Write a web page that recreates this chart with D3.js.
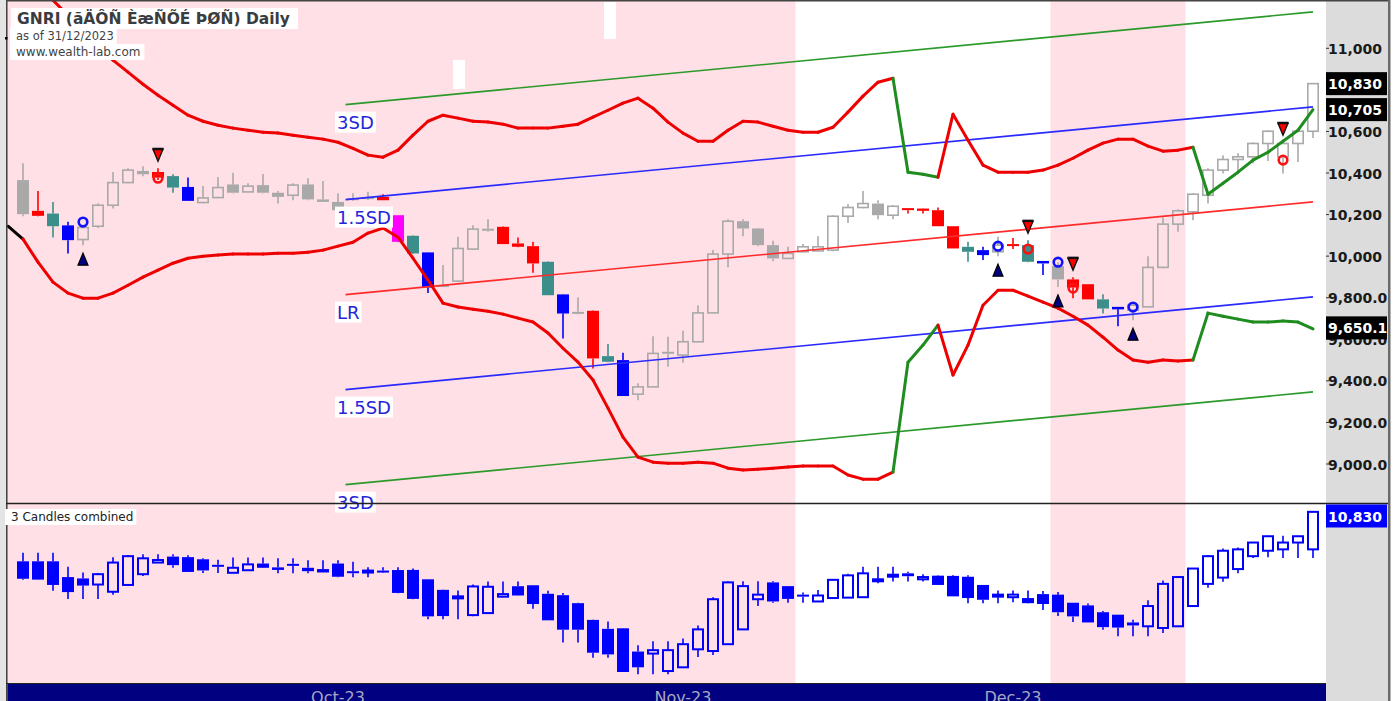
<!DOCTYPE html>
<html><head><meta charset="utf-8">
<script src="https://cdn.jsdelivr.net/npm/d3@7"></script>
<style>html,body{margin:0;padding:0;background:#fff;overflow:hidden}</style>
</head><body>
<svg id="c" width="1394" height="701"></svg>
<script>
// ---------------- DATA ----------------
const titleText = "GNRI (ãÄÔÑ ÈæÑÕÉ ÞØÑ) Daily";
const asOfText = "as of 31/12/2023";
const siteText = "www.wealth-lab.com";
const subPanelTitle = "3 Candles combined";

const open = [10366,10218,10205,10148,10080,10144,10245,10354,10410,10405, 10385,10333,10258,10282,10345,10309,10342,10305,10293,10345, 10273,10261,10279,10284,10285,10197,10098,10018,9861,9880, 10034,10132,10141,10061,10048,9973,9816,9732,9737,9519, 9500,9336,9371,9540,9524,9588,9727,10010,10168,10133, 10053,9989,10021,10025,10029,10192,10234,10253,10197,10231, 10229,10221,10144,10045,10029,10021,10058,10053,9977,9952, 9888,9865,9792,9756,9740,9756,9946,10154,10213,10293, 10414,10465,10478,10542,10478,10542,10601];
const high = [10447,10314,10261,10165,10149,10255,10405,10423,10433,10423, 10394,10378,10337,10381,10401,10351,10395,10313,10351,10375, 10362,10303,10303,10310,10298,10197,10101,10019,9957,10093, 10149,10177,10144,10090,10069,9976,9817,9801,9740,9577, 9535,9389,9615,9612,9641,9764,10029,10178,10178,10135, 10074,10045,10058,10096,10197,10250,10314,10269,10245,10231, 10231,10234,10144,10069,10045,10093,10087,10077,9977,9971, 9899,9865,9817,9756,9769,10000,10186,10226,10303,10423, 10486,10495,10548,10606,10548,10606,10833];
const low = [10192,10192,10090,10013,10053,10135,10229,10351,10385,10366, 10305,10265,10255,10279,10303,10308,10303,10253,10269,10269, 10260,10216,10265,10270,10269,10067,10010,9823,9851,9875, 10029,10117,10058,10043,9920,9812,9604,9721,9460,9490, 9327,9307,9370,9468,9487,9586,9726,9946,10096,10048, 9976,9986,10019,10024,10024,10160,10231,10177,10177,10205, 10205,10144,10037,9973,9981,10000,10034,9971,9909,9852, 9797,9792,9724,9663,9692,9755,9942,10117,10173,10253, 10398,10405,10446,10458,10398,10453,10568];
const close = [10202,10194,10144,10077,10138,10245,10354,10414,10394,10378, 10330,10266,10280,10330,10305,10337,10305,10285,10342,10273, 10261,10221,10272,10279,10269,10069,10013,9849,9852,10037, 10130,10127,10058,10045,9965,9812,9724,9724,9508,9492, 9327,9371,9532,9532,9588,9727,10010,10168,10133,10053, 9989,10013,10045,10045,10192,10234,10253,10197,10240,10226, 10218,10144,10037,10021,10005,10053,10053,9973,9965,9888, 9849,9792,9748,9744,9764,9946,10154,10218,10298,10414, 10465,10478,10542,10601,10542,10601,10830];
// candle highlight class per bar: g = plain, r/t/b/m = pattern colours
const candleClass = ("grtbgggggr"+"tbgggggggg"+"ggggrmtbgg"+"ggrrrtbgrt"+"bggggggggg"+
                     "gggggggggr"+"rrrtbgrtbg"+"rrtbgggggg"+"ggggggg").split("");

// thick envelope lines, first entry is bar -1
const upperBand = [null,11376,11304,11231,11159,11087,11015,10943,10885,10827, 10774,10726,10678,10649,10630,10616,10606,10596,10592,10582, 10572,10563,10548,10519,10486,10476,10510,10582,10649,10678, 10664,10649,10645,10635,10616,10616,10616,10625,10635,10669, 10702,10736,10760,10712,10645,10592,10553,10553,10606,10649, 10645,10625,10606,10596,10596,10620,10693,10770,10837,10856, 10404,10394,10380,10683,10558,10438,10404,10404,10404,10414, 10438,10471,10510,10544,10563,10563,10529,10505,10510,10524, 10298,10351,10404,10462,10500,10553,10606,10705];
const lowerBand = [10144,10082,9971,9875,9822,9798,9798,9822,9860,9899, 9933,9966,9990,10000,10005,10010,10010,10010,10014,10014, 10019,10029,10048,10067,10111,10135,10091,9990,9885,9774, 9755,9745,9735,9721,9702,9683,9630,9557,9490,9404, 9269,9129,9033,9009,9004,9004,9009,9004,8980,8971, 8975,8980,8985,8990,8990,8990,8947,8927,8927,8961, 9490,9572,9668,9428,9572,9764,9836,9836,9808,9779, 9750,9711,9668,9610,9548,9500,9490,9500,9495,9500, 9726,9711,9697,9683,9683,9688,9683,9650.1];
const greenSpans = [[59,61],[79,86]];
const blackBars = [0];

// linear regression channel
const regFromBar = 21.5, regToBar = 86;
const regFromValue = 9815, regToValue = 10261, regSigma = 304.7;
const regMultipliers = [3, 1.5, 0, -1.5, -3];
const regLabels = ["3SD","1.5SD","LR","1.5SD","3SD"];

// trade signals
const buyBars = [4,65,69,74], buyPrices = [10164,10048,9971,9755];
const sellBars = [9,67,70,84], sellPrices = [10375,10034,9846,10462];

// shaded periods (in bar units)
const pinkRanges = [[-1,51.5],[68.5,77.5]];

const priceTicks = [9000,9200,9400,9600,9800,10000,10200,10400,10600,11000];
const monthLabels = ["Oct-23","Nov-23","Dec-23"];
const monthBars = [21,44,66];

// ---------------- DRAW ----------------
const W=1394,H=701;
const L=7,R=1326,mainTop=1,mainBot=503,lowTop=504,lowBot=684;
const svg=d3.select('#c');
const x=d3.scaleLinear().domain([-1,86]).range([8,1313]);
const y=d3.scaleLinear().domain([9000,11000]).range([464,48.3]);
const y2=d3.scaleLinear().domain([9327,10838]).range([672,511]);
const PINK='#ffe0e6';

svg.append('rect').attr('width',W).attr('height',H).attr('fill','#fff');
svg.append('rect').attr('x',0).attr('y',0).attr('width',6).attr('height',H).attr('fill','#e4e4e4');
svg.append('rect').attr('x',R).attr('y',0).attr('width',1388-R).attr('height',H).attr('fill','#dcdcdc');
svg.append('rect').attr('x',1388).attr('y',0).attr('width',2.5).attr('height',H).attr('fill','#6a6a6a');

const defs=svg.append('defs');
defs.append('clipPath').attr('id','cm').append('rect').attr('x',L).attr('y',mainTop).attr('width',R-L).attr('height',mainBot-mainTop);
defs.append('clipPath').attr('id','cl').append('rect').attr('x',L).attr('y',lowTop).attr('width',R-L).attr('height',lowBot-lowTop);
defs.append('clipPath').attr('id','ca').append('rect').attr('x',R).attr('y',0).attr('width',1387-R).attr('height',H);

const gm=svg.append('g').attr('clip-path','url(#cm)');
const gl=svg.append('g').attr('clip-path','url(#cl)');

pinkRanges.forEach(([a,b])=>{
  gm.append('rect').attr('x',x(a)).attr('y',mainTop).attr('width',x(b)-x(a)).attr('height',mainBot-mainTop).attr('fill',PINK);
  gl.append('rect').attr('x',x(a)).attr('y',lowTop).attr('width',x(b)-x(a)).attr('height',lowBot-lowTop).attr('fill',PINK);
});
// small white artefacts in the price pane
gm.append('rect').attr('x',453).attr('y',60).attr('width',12).attr('height',29).attr('fill','#fff');
gm.append('rect').attr('x',604).attr('y',2).attr('width',12).attr('height',37).attr('fill','#fff');

const colMap={r:'#ff0000',t:'#3b8e8a',b:'#0000ff',m:'#ff00ff'};
const bars=d3.range(open.length);
const cw=12;
function drawCandle(g,ys,i,o,h,l,c,col,hollow,sw){
  const top=ys(Math.max(o,c)), bot=ys(Math.min(o,c));
  const hh=Math.max(bot-top,2);
  g.append('line').attr('x1',x(i)).attr('x2',x(i)).attr('y1',ys(h)).attr('y2',top).attr('stroke',col).attr('stroke-width',1.6);
  g.append('line').attr('x1',x(i)).attr('x2',x(i)).attr('y1',top+hh).attr('y2',ys(l)).attr('stroke',col).attr('stroke-width',1.6);
  if(hollow){
    g.append('rect').attr('x',x(i)-cw/2+sw/2).attr('y',top).attr('width',cw-sw).attr('height',hh).attr('fill','none').attr('stroke',col).attr('stroke-width',sw);
  } else {
    g.append('rect').attr('x',x(i)-cw/2).attr('y',top).attr('width',cw).attr('height',hh).attr('fill',col);
  }
}
bars.forEach(i=>{
  const k=candleClass[i], up=close[i]>open[i];
  if(k==='g') drawCandle(gm,y,i,open[i],high[i],low[i],close[i],'#a9a9a9',up,1.6);
  else drawCandle(gm,y,i,open[i],high[i],low[i],close[i],colMap[k],false,1.6);
});

// regression channel
regMultipliers.forEach((m,j)=>{
  const col=Math.abs(m)===3?'#2b9a2b':(m===0?'#ff2b2b':'#2a2aff');
  gm.append('line').attr('x1',x(regFromBar)).attr('x2',x(regToBar))
    .attr('y1',y(regFromValue+m*regSigma)).attr('y2',y(regToValue+m*regSigma))
    .attr('stroke',col).attr('stroke-width',1.6);
});

// envelope lines
function segColor(i){
  if(blackBars.includes(i)) return '#000';
  return greenSpans.some(([a,b])=>i>=a&&i<=b)?'#1e8c1e':'#ee0000';
}
[upperBand,lowerBand].forEach(arr=>{
  for(let p=1;p<arr.length;p++){
    const i=p-1;
    if(arr[p-1]==null) continue;
    gm.append('line').attr('x1',x(i-1)).attr('y1',y(arr[p-1])).attr('x2',x(i)).attr('y2',y(arr[p]))
      .attr('stroke',segColor(i)).attr('stroke-width',3).attr('stroke-linecap','round');
  }
});

// signals
buyBars.forEach((b,j)=>{
  const ty=y(low[b])+15;
  gm.append('path').attr('d',`M${x(b)},${ty-7}L${x(b)+5},${ty+5}L${x(b)-5},${ty+5}Z`).attr('fill','#000080').attr('stroke','#000').attr('stroke-width',1.2);
  gm.append('circle').attr('cx',x(b)).attr('cy',y(buyPrices[j])).attr('r',4.3).attr('fill','none').attr('stroke','#1010ff').attr('stroke-width',2.6);
});
sellBars.forEach((b,j)=>{
  const ty=y(high[b])-13;
  gm.append('path').attr('d',`M${x(b)-5},${ty-6}L${x(b)+5},${ty-6}L${x(b)},${ty+6}Z`).attr('fill','#ff0000').attr('stroke','#111').attr('stroke-width',1.4);
  gm.append('rect').attr('x',x(b)-5.5).attr('y',ty-7.5).attr('width',11).attr('height',2.5).attr('fill','#111');
  gm.append('circle').attr('cx',x(b)).attr('cy',y(sellPrices[j])).attr('r',4.3).attr('fill','none').attr('stroke','#ff1010').attr('stroke-width',2.6);
});

// SD labels
regMultipliers.forEach((m,j)=>{
  const t=svg.append('text').attr('x',337).attr('y',y(regFromValue+m*regSigma)+24)
    .attr('font-family','DejaVu Sans').attr('font-size',18).attr('fill','#2525d8').text(regLabels[j]);
  const bb=t.node().getBBox();
  svg.insert('rect','text:last-of-type').attr('x',bb.x-2).attr('y',bb.y).attr('width',bb.width+4).attr('height',bb.height).attr('fill','#fff');
  t.raise();
});

// lower pane: 3 candles combined
bars.forEach(i=>{
  const s=Math.max(0,i-2);
  const o=open[s], c=close[i];
  const h=d3.max(high.slice(s,i+1)), l=d3.min(low.slice(s,i+1));
  drawCandle(gl,y2,i,o,h,l,c,'#0000ff',c>o,2);
});

// borders
svg.append('line').attr('x1',6).attr('x2',1388).attr('y1',0.8).attr('y2',0.8).attr('stroke','#444').attr('stroke-width',1.6);
svg.append('line').attr('x1',6.8).attr('x2',6.8).attr('y1',0).attr('y2',H).attr('stroke','#444').attr('stroke-width',1.6);
svg.append('line').attr('x1',6).attr('x2',1388).attr('y1',503.5).attr('y2',503.5).attr('stroke','#222').attr('stroke-width',1.4);
svg.append('line').attr('x1',6).attr('x2',R).attr('y1',683.5).attr('y2',683.5).attr('stroke','#222').attr('stroke-width',1.2);
svg.append('rect').attr('x',7.5).attr('y',684).attr('width',R-7.5).attr('height',H-684).attr('fill','#000080');
svg.append('rect').attr('x',5).attr('y',37).attr('width',2.5).attr('height',2.5).attr('fill','#000');

// title block
function labelBox(txt,xx,yy,size,weight,col,padR){
  const t=svg.append('text').attr('x',xx).attr('y',yy).attr('font-family','DejaVu Sans').attr('font-size',size)
    .attr('font-weight',weight).attr('fill',col).text(txt);
  const bb=t.node().getBBox();
  svg.insert('rect','text:last-of-type').attr('x',bb.x-6).attr('y',bb.y-1).attr('width',bb.width+6+padR).attr('height',bb.height+2).attr('fill','#fff');
  t.raise();
  return t;
}
labelBox(siteText,16,56,12,'normal','#444',4);
labelBox(asOfText,16,40,11.5,'normal','#444',3);
labelBox(titleText,17,24,15.5,'bold','#3a3d40',8);
labelBox(subPanelTitle,11,521,12,'normal','#222',3);

// price axis
const ga=svg.append('g').attr('clip-path','url(#ca)');
const fmt=v=>v>=10000?d3.format(',')(v):d3.format(',.2f')(v);
priceTicks.forEach(v=>{
  ga.append('line').attr('x1',R).attr('x2',R+3).attr('y1',y(v)).attr('y2',y(v)).attr('stroke','#333');
  ga.append('text').attr('x',1328).attr('y',y(v)+5.5).attr('font-family','DejaVu Sans').attr('font-weight','bold')
    .attr('font-size',14).attr('fill','#1a1a1a').text(fmt(v));
});
function valueBox(v,yy,bg){
  ga.append('rect').attr('x',R).attr('y',yy-11.5).attr('width',62).attr('height',23).attr('fill',bg);
  ga.append('text').attr('x',1328).attr('y',yy+5.5).attr('font-family','DejaVu Sans').attr('font-weight','bold')
    .attr('font-size',14).attr('fill','#fff').text(fmt(v));
}
const lastClose=close[close.length-1];
valueBox(upperBand[upperBand.length-1],y(upperBand[upperBand.length-1]),'#000');
valueBox(lastClose,Math.min(y(lastClose),y(upperBand[upperBand.length-1])-24),'#000');
valueBox(lowerBand[lowerBand.length-1],y(lowerBand[lowerBand.length-1])-1,'#000');
valueBox(lastClose,516,'#0000ff');

// date labels
monthLabels.forEach((m,j)=>{
  svg.append('text').attr('x',x(monthBars[j])).attr('y',702.5).attr('text-anchor','middle')
    .attr('font-family','DejaVu Sans').attr('font-size',16).attr('fill','#a8a8c0').text(m);
});
</script>
</body></html>
